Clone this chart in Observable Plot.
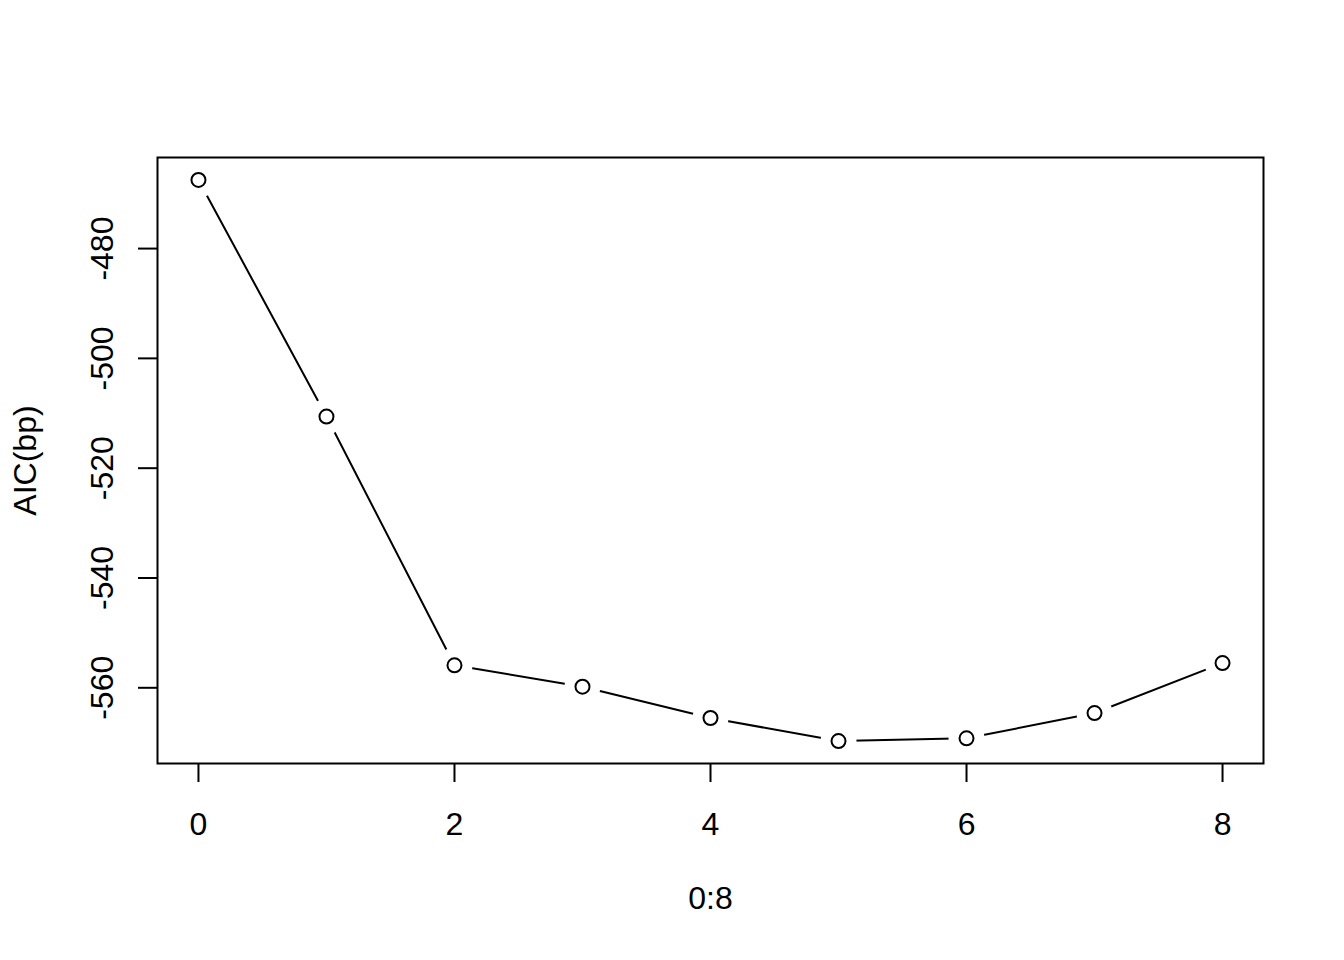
<!DOCTYPE html>
<html>
<head>
<meta charset="utf-8">
<script src="https://cdn.jsdelivr.net/npm/d3@7"></script>
<script src="https://cdn.jsdelivr.net/npm/@observablehq/plot@0.6"></script>
<style>
  html, body { margin: 0; padding: 0; background: white; }
</style>
</head>
<body>
<div id="chart"></div>
<script>
const lags = [0, 1, 2, 3, 4, 5, 6, 7, 8];
const aic = [-467.5, -510.6, -555.9, -559.8, -565.5, -569.7, -569.2, -564.6, -555.5];
const xTicks = [0, 2, 4, 6, 8];
const yTicks = [-560, -540, -520, -500, -480];
const xTitle = "0:8";
const yTitle = "AIC(bp)";

const data = lags.map((x, i) => ({x, y: aic[i]}));

// R-style 4% axis expansion
function expand([lo, hi]) { const r = hi - lo; return [lo - 0.04 * r, hi + 0.04 * r]; }
const xDomain = expand(d3.extent(lags));
const yDomain = expand(d3.extent(aic));

const chart = Plot.plot({
  width: 1344,
  height: 960,
  marginTop: 157,
  marginRight: 81,
  marginBottom: 197,
  marginLeft: 157,
  style: { fontFamily: "'Liberation Sans', Arial, Helvetica, sans-serif", color: "black", background: "white" },
  x: { domain: xDomain },
  y: { domain: yDomain },
  marks: [
    Plot.line(data, { x: "x", y: "y", stroke: "black", strokeWidth: 2 }),
    Plot.dot(data, { x: "x", y: "y", r: 18, fill: "white", stroke: null }),
    Plot.frame({ stroke: "black", strokeWidth: 2 }),
    Plot.axisX({ ticks: xTicks, tickSize: 19, tickPadding: 30, fontSize: 32, strokeWidth: 2, tickFormat: d => String(d), label: null }),
    Plot.axisY({ ticks: yTicks, tickSize: 19, tickRotate: -90, tickPadding: 26, fontSize: 32, strokeWidth: 2, tickFormat: d => String(d), label: null }),
    Plot.dot(data, { x: "x", y: "y", r: 7, fill: "none", stroke: "black", strokeWidth: 2 }),
    Plot.text([xTitle], { frameAnchor: "bottom", dy: 135, text: d => d, lineAnchor: "middle", textAnchor: "middle", fontSize: 32, fill: "black" }),
    Plot.text([yTitle], { frameAnchor: "left", dx: -122, rotate: -90, text: d => d, lineAnchor: "bottom", textAnchor: "middle", fontSize: 32, fill: "black" })
  ]
});
document.getElementById("chart").appendChild(chart);
</script>
</body>
</html>
